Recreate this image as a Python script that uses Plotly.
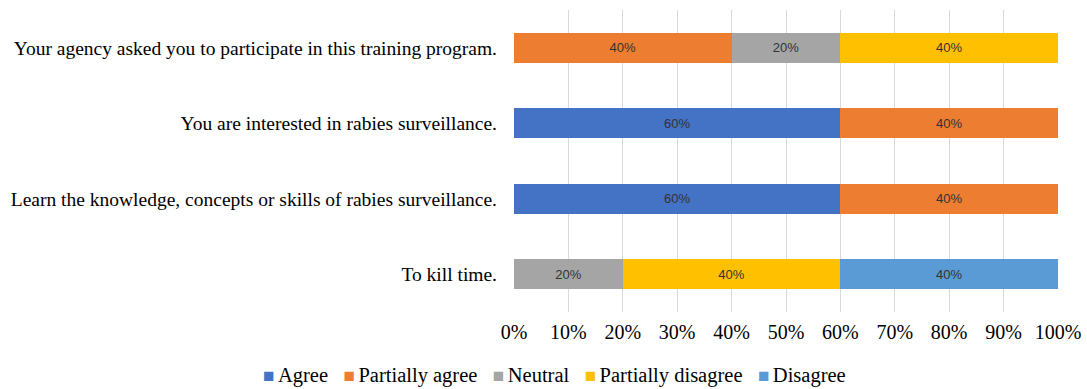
import plotly.graph_objects as go

categories = [
    "Your agency asked you to participate in this training program.",
    "You are interested in rabies surveillance.",
    "Learn the knowledge, concepts or skills of rabies surveillance.",
    "To kill time.",
]
series_names = ["Agree", "Partially agree", "Neutral", "Partially disagree", "Disagree"]
agree = [0, 60, 60, 0]
partially_agree = [40, 40, 40, 0]
neutral = [20, 0, 0, 20]
partially_disagree = [40, 0, 0, 40]
disagree = [0, 0, 0, 40]
tick_vals = [0, 10, 20, 30, 40, 50, 60, 70, 80, 90, 100]
tick_text = [f"{v}%" for v in tick_vals]

colors = ["#4472C4", "#ED7D31", "#A5A5A5", "#FFC000", "#5B9BD5"]
values = [agree, partially_agree, neutral, partially_disagree, disagree]

SERIF = "Liberation Serif"

fig = go.Figure()
for name, vals, col in zip(series_names, values, colors):
    fig.add_trace(go.Bar(
        y=categories,
        x=vals,
        name=name,
        orientation="h",
        marker=dict(color=col, line=dict(width=0)),
        text=[f"{v}%" if v > 0 else "" for v in vals],
        textposition="inside",
        insidetextanchor="middle",
        textfont=dict(family="Liberation Sans", size=13, color="#333333"),
        width=0.4,
        showlegend=False,
    ))

# Legend row built as one centred text line: small coloured square + series name
gap = "&nbsp;" * 3
legend_parts = [
    f"<span style='color:{col};font-size:19px'>■</span>"
    f"<span style='font-size:14px'>&nbsp;</span>{name}"
    for name, col in zip(series_names, colors)
]
legend_text = gap.join(legend_parts)

fig.add_annotation(
    text=legend_text,
    xref="paper", yref="paper",
    x=0.075, y=-0.209,
    xanchor="center", yanchor="middle",
    showarrow=False,
    font=dict(family=SERIF, size=20.5, color="black"),
)

fig.update_layout(
    barmode="stack",
    width=1087,
    height=389,
    margin=dict(l=514, r=29, t=10, b=77, autoexpand=False),
    plot_bgcolor="white",
    paper_bgcolor="white",
    font=dict(family=SERIF, size=19.5, color="black"),
    showlegend=False,
    uniformtext=dict(mode="show", minsize=8),
)
fig.update_xaxes(
    range=[0, 100],
    tickvals=tick_vals,
    ticktext=tick_text,
    showgrid=True,
    gridcolor="#D9D9D9",
    gridwidth=1,
    zeroline=False,
    showline=False,
    ticks="",
    automargin=False,
    ticklabelstandoff=6,
    tickfont=dict(family=SERIF, size=20, color="black"),
)
fig.update_yaxes(
    categoryorder="array",
    categoryarray=categories[::-1],
    showgrid=False,
    zeroline=False,
    showline=False,
    ticks="",
    automargin=False,
    ticklabelstandoff=16,
    tickfont=dict(family=SERIF, size=19.5, color="black"),
)

fig.write_html("out.html")
